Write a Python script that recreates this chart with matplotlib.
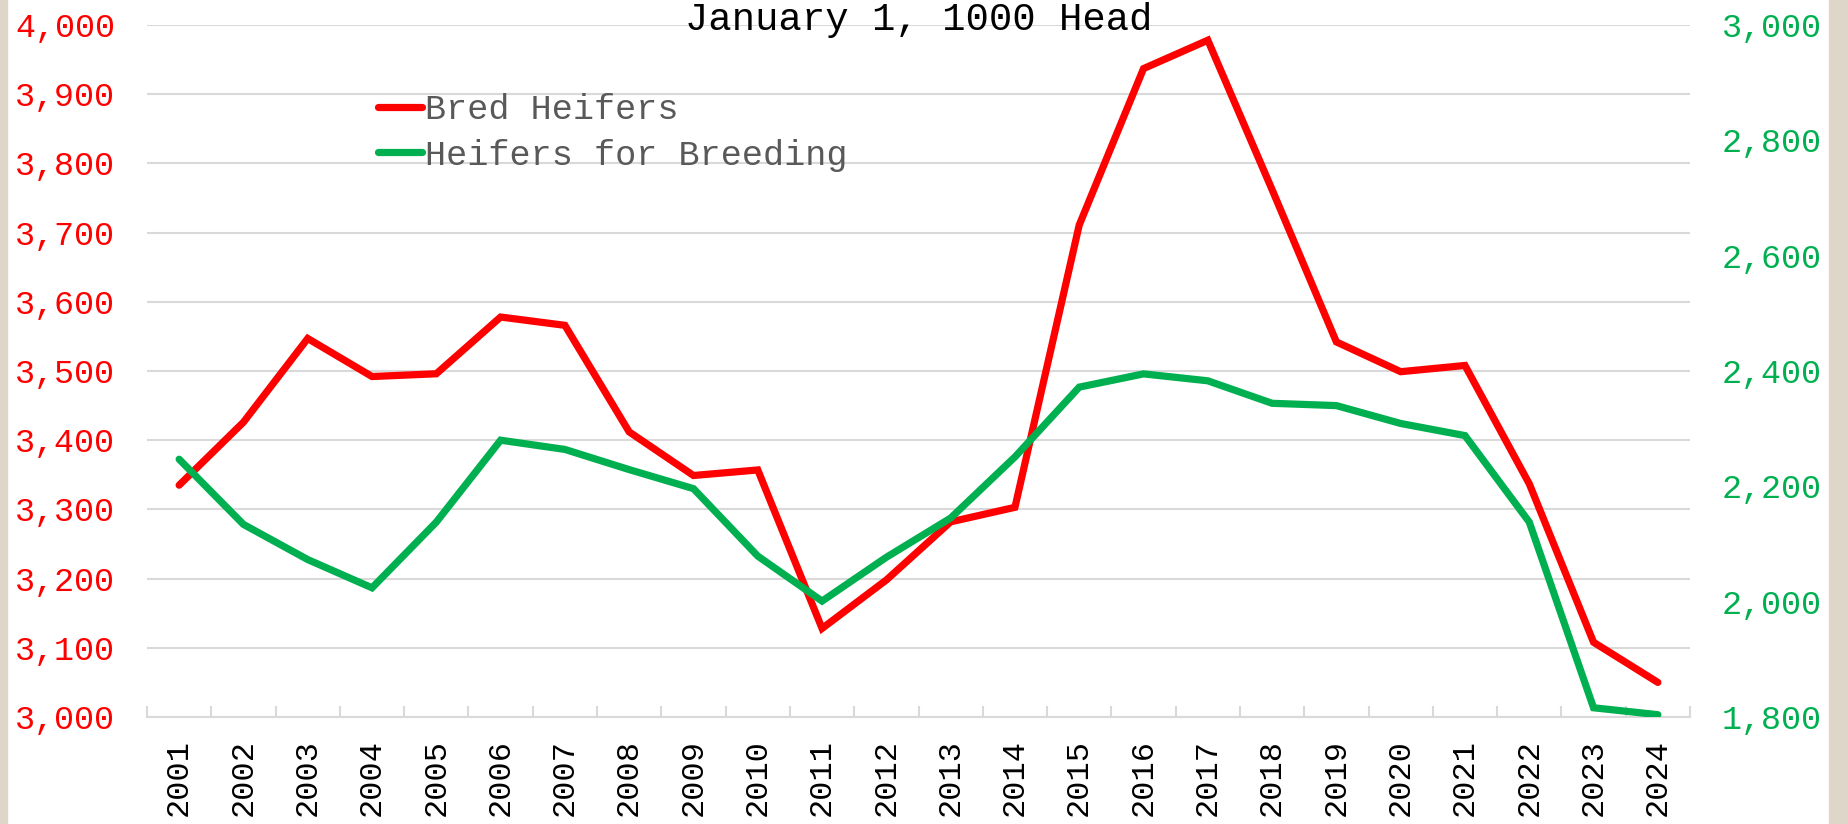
import numpy as np
import matplotlib
matplotlib.use('Agg')
import matplotlib.pyplot as plt
from matplotlib.patches import Rectangle
from matplotlib.ticker import FuncFormatter, MultipleLocator

years = [str(y) for y in range(2001, 2025)]
bred_heifers = [3335, 3426, 3547, 3492, 3496, 3578, 3566, 3412, 3349, 3357, 3128, 3198,
                3282, 3303, 3711, 3937, 3978, 3762, 3542, 3499, 3508, 3337, 3108, 3050]
heifers_breeding = [2247, 2134, 2073, 2024, 2138, 2280, 2264, 2229, 2196, 2079, 2001, 2077,
                    2145, 2251, 2372, 2395, 2383, 2344, 2340, 2309, 2288, 2138, 1816, 1804]

RED = '#ff0000'
GREEN = '#00b050'
GRID = '#d9d9d9'
FONT = ['Liberation Mono', 'DejaVu Sans Mono']
plt.rcParams['font.family'] = FONT

W, H = 1848, 824
fig = plt.figure(figsize=(W / 100, H / 100), dpi=100)
fig.patch.set_facecolor('white')
# beige side strips
fig.add_artist(Rectangle((0, 0), 7 / W, 1, transform=fig.transFigure, color='#ddd6c9', zorder=0))
fig.add_artist(Rectangle((1829 / W, 0), 19 / W, 1, transform=fig.transFigure, color='#ddd6c9', zorder=0))

ax = fig.add_axes([147 / W, 1 - 717 / H, (1690 - 147) / W, (717 - 25) / H])
ax2 = ax.twinx()

x = np.arange(len(years))
ax.plot(x, bred_heifers, color=RED, lw=5.2, solid_capstyle='round', solid_joinstyle='miter',
        label='Bred Heifers', zorder=3)
ax2.plot(x, heifers_breeding, color=GREEN, lw=5.2, solid_capstyle='round', solid_joinstyle='miter',
         label='Heifers for Breeding', zorder=3)

ax.set_xlim(-0.5, len(years) - 0.5)
ax.set_ylim(3000, 4000)
ax2.set_ylim(1800, 3000)
ax.yaxis.set_major_locator(MultipleLocator(100))
ax2.yaxis.set_major_locator(MultipleLocator(200))
fmt = FuncFormatter(lambda v, p: f'{int(v):,}')
ax.yaxis.set_major_formatter(fmt)
ax2.yaxis.set_major_formatter(fmt)

ax.grid(axis='y', color=GRID, lw=1.5)
ax.set_axisbelow(True)
for a in (ax, ax2):
    for s in a.spines.values():
        s.set_visible(False)
ax.spines['bottom'].set_visible(True)
ax.spines['bottom'].set_color(GRID)
ax.spines['bottom'].set_linewidth(1.5)

ax.set_xticks(x)
ax.set_xticklabels(years, rotation=90, fontsize=23, color='black')
ax.set_xticks(np.arange(-0.5, len(years)), minor=True)
ax.tick_params(axis='x', which='major', length=0, pad=16)
ax.tick_params(axis='x', which='minor', length=8, direction='in', color=GRID, width=1.5)
ax.tick_params(axis='y', length=0, pad=23, labelsize=24, labelcolor=RED)
ax2.tick_params(axis='y', length=0, pad=23, labelsize=24, labelcolor=GREEN)

fig.text(919 / W, 1 - 20 / H, 'January 1, 1000 Head', ha='center', va='center',
         fontsize=28, color='black')

h1, l1 = ax.get_legend_handles_labels()
h2, l2 = ax2.get_legend_handles_labels()
ax.legend(h1 + h2, l1 + l2, loc='upper left', bbox_to_anchor=(378 / W, 1 - 93 / H),
          bbox_transform=fig.transFigure, frameon=False, fontsize=25.3, labelcolor='#595959',
          handlelength=1.25, handletextpad=0.1, labelspacing=0.36, borderaxespad=0,
          borderpad=0)

fig.savefig('out.png', dpi=100)
